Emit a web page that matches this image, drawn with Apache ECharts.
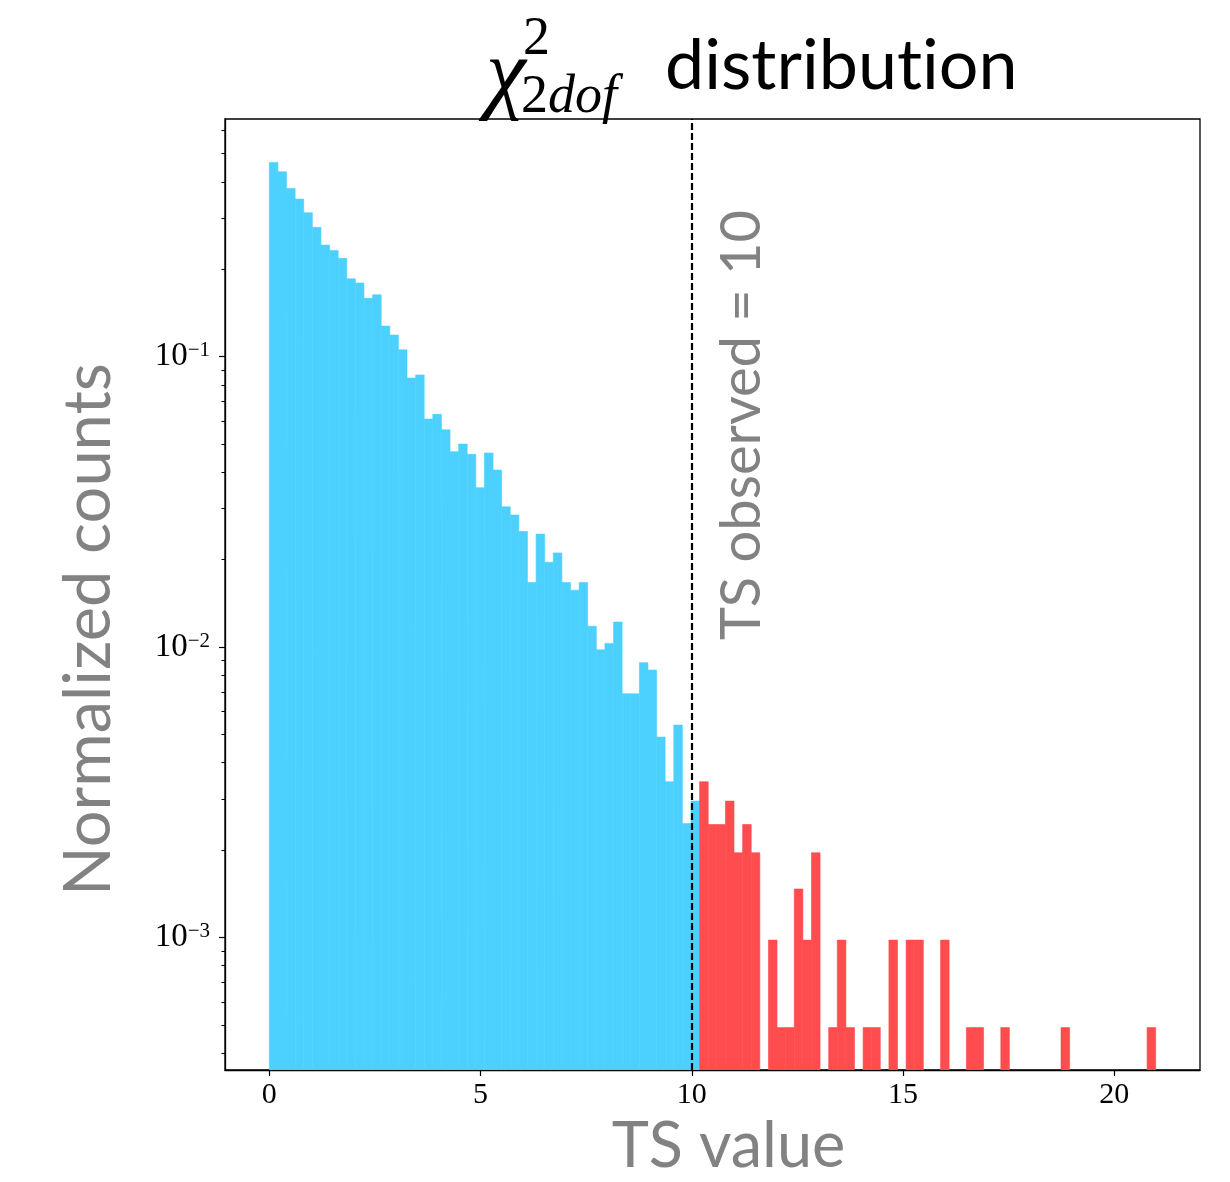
<!DOCTYPE html>
<html>
<head>
<meta charset="utf-8">
<script src="https://cdn.jsdelivr.net/npm/echarts@6/dist/echarts.min.js"></script>
<style>
  html, body { margin: 0; padding: 0; background: #ffffff; }
  #chart { width: 1230px; height: 1182px; }
</style>
</head>
<body>
<div id="chart"></div>
<script>
// TS distribution from pseudo-experiments, density-normalised histogram (103 bins)
const binStart = 0;
const binWidth = 0.2037;
const tsObserved = 10;

// normalized counts per bin, in bin order
const density = [
  0.4665, 0.4330, 0.3796, 0.3487, 0.3129, 0.2787, 0.2422, 0.2322, 0.2180, 0.1855,
  0.1793, 0.1588, 0.1633, 0.1274, 0.1187, 0.1056, 0.0844, 0.0865, 0.0610, 0.0633,
  0.0560, 0.0471, 0.0500, 0.0461, 0.0354, 0.0466, 0.0407, 0.0304, 0.0285, 0.0250,
  0.0167, 0.0245, 0.0196, 0.0211, 0.0167, 0.0157, 0.0167, 0.0118, 0.00979, 0.0103,
  0.0122, 0.00691, 0.00691, 0.00884, 0.00834, 0.00490, 0.00344, 0.00539, 0.00247, 0.00295,
  0.00344, 0.00245, 0.00245, 0.00295, 0.00196, 0.00245, 0.00196, 0, 0.00098, 0.00049,
  0.00049, 0.00147, 0.00098, 0.00196, 0, 0.00049, 0.00098, 0.00049, 0, 0.00049,
  0.00049, 0, 0.00098, 0, 0.00098, 0.00098, 0, 0, 0.00098, 0,
  0, 0.00049, 0.00049, 0, 0, 0.00049, 0, 0, 0, 0,
  0, 0, 0.00049, 0, 0, 0, 0, 0, 0, 0,
  0, 0, 0.00049
];

// axis ranges and ticks
const xRange = [-1.049, 22.03];
const yRange = [3.50e-4, 0.658];
const xTickValues = [0, 5, 10, 15, 20];
const yMajorTicks = [1e-3, 1e-2, 1e-1];
const yMinorTicks = [];
for (let e = -4; e <= -1; e++) {
  for (let m = 2; m <= 9; m++) {
    const v = m * Math.pow(10, e);
    if (v > yRange[0] && v < yRange[1]) yMinorTicks.push(v);
  }
}

const colorBelow = '#4cd1fe';
const colorAbove = '#ff4c4f';
const labelGray = '#828282';
const serif = '"Liberation Serif", "DejaVu Serif", serif';
const sans = 'Lato, "Open Sans", sans-serif';

// [left edge, right edge, value]
const bins = [];
density.forEach((v, i) => {
  if (v > 0) {
    const x0 = binStart + i * binWidth;
    bins.push([x0, x0 + binWidth, v]);
  }
});

const chart = echarts.init(document.getElementById('chart'), null, { renderer: 'canvas' });

function powerLabel(v) {
  const e = Math.round(Math.log10(v));
  return '{b|10}{s|' + String(e).replace('-', '\u2212') + '}';
}

chart.setOption({
  animation: false,
  backgroundColor: '#ffffff',
  grid: {
    left: 225, right: 30, top: 119, bottom: 112,
    show: true, borderColor: '#000', borderWidth: 1.3,
    backgroundColor: 'transparent',
    containLabel: false,
    outerBoundsMode: 'none'
  },
  xAxis: {
    type: 'value',
    min: xRange[0], max: xRange[1],
    name: 'TS value',
    nameLocation: 'middle',
    nameGap: 29,
    nameTextStyle: { fontFamily: sans, fontSize: 63, color: labelGray, padding: [0, 0, 0, 32] },
    axisLine: { show: true, onZero: false, lineStyle: { color: '#000', width: 1.3 } },
    axisTick: { show: true, length: 6, lineStyle: { color: '#000', width: 1.2 }, customValues: xTickValues },
    axisLabel: {
      show: true, customValues: xTickValues, margin: 10,
      fontFamily: serif, fontSize: 30, color: '#000',
      formatter: v => String(Math.round(v))
    },
    splitLine: { show: false }
  },
  yAxis: [
    {
      type: 'log', logBase: 10,
      min: yRange[0], max: yRange[1],
      name: 'Normalized counts',
      nameLocation: 'middle',
      nameRotate: 90,
      nameGap: 103,
      nameTextStyle: { fontFamily: sans, fontSize: 65, color: labelGray, padding: [0, 70, 0, 0] },
      axisLine: { show: true, onZero: false, lineStyle: { color: '#000', width: 1.3 } },
      axisTick: { show: true, length: 6, lineStyle: { color: '#000', width: 1.2 }, customValues: yMajorTicks },
      axisLabel: {
        show: true, customValues: yMajorTicks, margin: 15,
        formatter: powerLabel,
        rich: {
          b: { fontFamily: serif, fontSize: 33, color: '#000', verticalAlign: 'top' },
          s: { fontFamily: serif, fontSize: 21, color: '#000', verticalAlign: 'top' }
        }
      },
      splitLine: { show: false }
    },
    {
      type: 'log', logBase: 10,
      min: yRange[0], max: yRange[1],
      position: 'left',
      axisLine: { show: false, onZero: false },
      axisTick: { show: true, length: 3.5, lineStyle: { color: '#000', width: 1 }, customValues: yMinorTicks },
      axisLabel: { show: false },
      splitLine: { show: false }
    }
  ],
  series: [
    {
      type: 'custom',
      name: 'TS',
      xAxisIndex: 0,
      yAxisIndex: 0,
      clip: true,
      encode: { x: [0, 1], y: 2 },
      data: bins,
      renderItem: function (params, api) {
        const x0 = api.value(0);
        const x1 = api.value(1);
        const v = api.value(2);
        const top = api.coord([x0, v]);
        const bottom = api.coord([x1, yRange[0]]);
        const fill = x0 >= tsObserved ? colorAbove : colorBelow;
        return {
          type: 'rect',
          shape: { x: top[0], y: top[1], width: bottom[0] - top[0], height: bottom[1] - top[1] },
          style: { fill: fill, stroke: fill, lineWidth: 0.6 }
        };
      },
      markLine: {
        silent: true,
        symbol: ['none', 'none'],
        label: { show: false },
        lineStyle: { color: '#000', width: 2.2, type: [7, 3] },
        data: [{ xAxis: tsObserved }]
      },
      z: 2
    }
  ],
  graphic: [
    {
      type: 'text', x: 742, y: 425, rotation: Math.PI / 2,
      style: {
        text: 'TS observed = ' + tsObserved,
        font: '56px ' + sans, fill: labelGray,
        textAlign: 'center', textVerticalAlign: 'middle'
      },
      z: 10
    },
    {
      type: 'text', x: 486, y: 78,
      style: { text: '\u03C7', font: 'italic 90px ' + serif, fill: '#000', textAlign: 'left', textVerticalAlign: 'middle' },
      z: 10
    },
    {
      type: 'text', x: 523, y: 40,
      style: { text: '2', font: '54px ' + serif, fill: '#000', textAlign: 'left', textVerticalAlign: 'middle' },
      z: 10
    },
    {
      type: 'text', x: 521, y: 98,
      style: {
        text: '{n|2}{i|dof}',
        textAlign: 'left', textVerticalAlign: 'middle',
        rich: {
          n: { fontFamily: serif, fontSize: 54, color: '#000' },
          i: { fontFamily: serif, fontStyle: 'italic', fontSize: 54, color: '#000' }
        }
      },
      z: 10
    },
    {
      // drawn in pieces so the t-i pairs stay as separate letters
      type: 'text', x: 665, y: 66,
      style: {
        text: '{w|dist}{w|ribut}{w|ion}',
        textAlign: 'left', textVerticalAlign: 'middle',
        rich: { w: { fontFamily: sans, fontSize: 70, color: '#000' } }
      },
      z: 10
    }
  ]
});
</script>
</body>
</html>
